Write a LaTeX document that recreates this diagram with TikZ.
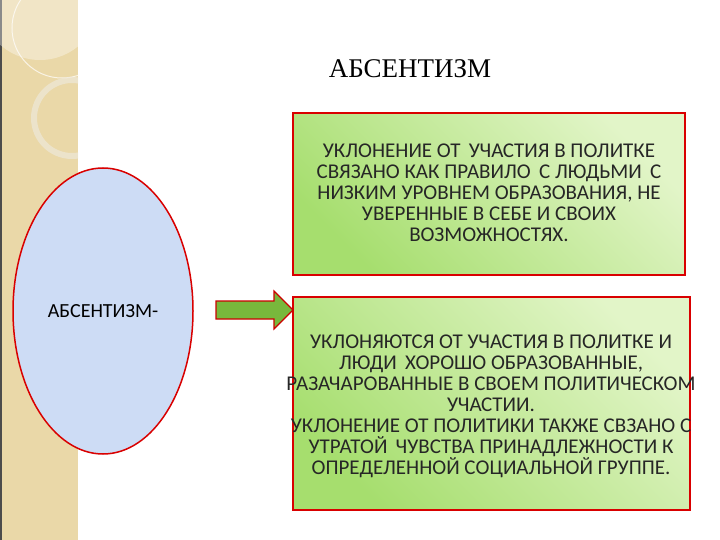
\documentclass[tikz,border=0pt]{standalone}
\usepackage{fontspec}
\usetikzlibrary{shapes.geometric}
\setmainfont{Liberation Serif}
\newfontfamily\calfont{Carlito}
\definecolor{beige}{HTML}{EAD8A8}
\definecolor{ellfill}{HTML}{CDDCF5}
\definecolor{gA}{HTML}{A6DE6E}
\definecolor{gB}{HTML}{E2F5C8}
\definecolor{arr}{HTML}{78B83C}
\begin{document}
\begin{tikzpicture}[x=1pt,y=-1pt,
  gbox/.style={draw=red!85!black, line width=1.2pt, left color=gA, right color=gB, shading angle=135},
  btext/.style={font=\calfont\fontsize{21}{21}\selectfont, align=center, text=black!85}]
\useasboundingbox (0,0) rectangle (720,540);
\fill[white] (0,0) rectangle (720,540);
\fill[beige] (0,0) rectangle (78,540);
\fill[black!70] (0,0) rectangle (2,540);
\begin{scope}
\clip (0,0) rectangle (78,540);
\draw[white!70!beige, line width=1pt] (62,28) circle (50);
\draw[beige!80!gray!40!white, line width=6pt, opacity=0.7] (72,118) circle (38);
\fill[white, opacity=0.35] (40,0) circle (60);
\end{scope}
\node[ellipse, minimum width=180, minimum height=286, draw=red!85!black, line width=1.5pt, fill=ellfill] (e) at (103,311) {};
\node[font=\calfont\fontsize{20}{20}\selectfont] (et) at (e.center) {АБСЕНТИЗМ-};
\node[font=\fontsize{27}{30}\selectfont] (t) at (410,69) {АБСЕНТИЗМ};
\draw[gbox] (293,113) rectangle (685,275);
\node[btext] (b1) at (489,193) {УКЛОНЕНИЕ ОТ \,УЧАСТИЯ В ПОЛИТКЕ\\СВЯЗАНО КАК ПРАВИЛО \,С ЛЮДЬМИ \,С\\НИЗКИМ УРОВНЕМ ОБРАЗОВАНИЯ, НЕ\\УВЕРЕННЫЕ В СЕБЕ И СВОИХ\\ВОЗМОЖНОСТЯХ.};
\draw[gbox] (293,297) rectangle (690,510);
\node[btext] (b2) at (491,406) {УКЛОНЯЮТСЯ ОТ УЧАСТИЯ В ПОЛИТКЕ И\\ЛЮДИ \,ХОРОШО ОБРАЗОВАННЫЕ,\\РАЗАЧАРОВАННЫЕ В СВОЕМ ПОЛИТИЧЕСКОМ\\УЧАСТИИ.\\УКЛОНЕНИЕ ОТ ПОЛИТИКИ ТАКЖЕ СВЗАНО С\\УТРАТОЙ \,ЧУВСТВА ПРИНАДЛЕЖНОСТИ К\\ОПРЕДЕЛЕННОЙ СОЦИАЛЬНОЙ ГРУППЕ.};
\coordinate (tip) at (293,310);
\draw[draw=red!80!black, line width=1.2pt, fill=arr] (216,301) -- (274,301) -- (274,291) -- (tip) -- (274,329) -- (274,319) -- (216,319) -- cycle;
\end{tikzpicture}
\end{document}
